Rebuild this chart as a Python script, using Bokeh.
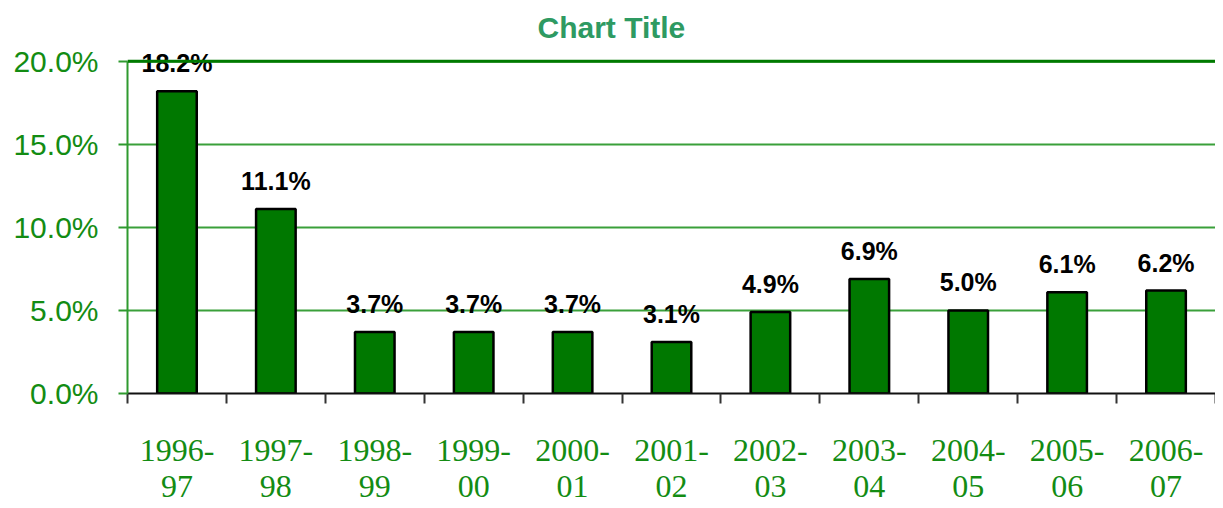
from bokeh.plotting import figure
from bokeh.models import ColumnDataSource, FixedTicker, LabelSet, Span, Title
from bokeh.core.properties import value
from bokeh.embed import file_html
from bokeh.resources import INLINE

categories = ["1996-\n97", "1997-\n98", "1998-\n99", "1999-\n00", "2000-\n01", "2001-\n02",
              "2002-\n03", "2003-\n04", "2004-\n05", "2005-\n06", "2006-\n07"]
values = [18.2, 11.1, 3.7, 3.7, 3.7, 3.1, 4.9, 6.9, 5.0, 6.1, 6.2]
y_ticks = [0, 5, 10, 15, 20]
y_tick_labels = ["0.0%", "5.0%", "10.0%", "15.0%", "20.0%"]

n = len(categories)
xs = [i + 0.5 for i in range(n)]
labels = ["%.1f%%" % v for v in values]
src = ColumnDataSource(dict(x=xs, top=values, label=labels))

GREEN_TXT = "#138c13"
p = figure(width=1215, height=506, x_range=(0, n), y_range=(0, 20.95),
           output_backend="svg", toolbar_location=None,
           min_border_left=127, min_border_right=0, min_border_top=45, min_border_bottom=0)
p.title = Title(text="Chart Title", align="left", text_font="Liberation Sans",
                text_font_size="30px", text_font_style="bold", text_color="#2e9a62",
                offset=410, standoff=4)
p.outline_line_color = None

p.vbar(x="x", top="top", width=0.4, bottom=0, source=src,
       fill_color="#007800", line_color="black", line_width=2.5)

p.add_layout(LabelSet(x="x", y="top", text="label", source=src, y_offset=28,
                      text_align="center", text_baseline="middle",
                      text_font=value("Liberation Sans"), text_font_size=value("25px"),
                      text_font_style="bold", text_color="black"))

# y axis
p.yaxis.ticker = FixedTicker(ticks=y_ticks)
p.yaxis.bounds = (0, 20)
p.yaxis.major_label_overrides = {t: l for t, l in zip(y_ticks, y_tick_labels)}
p.yaxis.major_label_text_font = "Liberation Sans"
p.yaxis.major_label_text_font_size = "30px"
p.yaxis.major_label_text_color = GREEN_TXT
p.yaxis.axis_line_color = "#2f9a2f"
p.yaxis.axis_line_width = 2
p.yaxis.major_tick_line_color = "#2f9a2f"
p.yaxis.major_tick_line_width = 2
p.yaxis.major_tick_out = 9
p.yaxis.major_tick_in = 0
p.yaxis.minor_tick_line_color = None
p.yaxis.major_label_standoff = 20

# x axis
p.xaxis.ticker = FixedTicker(ticks=xs, minor_ticks=list(range(n + 1)))
p.xaxis.major_label_overrides = {x: c for x, c in zip(xs, categories)}
p.xaxis.major_label_text_font = "Liberation Serif"
p.xaxis.major_label_text_font_size = "32px"
p.xaxis.major_label_text_color = GREEN_TXT
p.xaxis.major_label_text_line_height = 1.0
p.xaxis.major_tick_line_color = None
p.xaxis.minor_tick_line_color = "#333333"
p.xaxis.minor_tick_line_width = 2
p.xaxis.minor_tick_out = 10
p.xaxis.minor_tick_in = 0
p.xaxis.axis_line_color = "#111111"
p.xaxis.axis_line_width = 2
p.xaxis.major_label_standoff = 28

p.xgrid.grid_line_color = None
p.ygrid.grid_line_color = "#3aa03a"
p.ygrid.grid_line_width = 2
p.ygrid.grid_line_alpha = 1.0

p.add_layout(Span(location=20, dimension="width", line_color="#007a00", line_width=3))

open("out.html", "w").write(file_html(p, INLINE))
